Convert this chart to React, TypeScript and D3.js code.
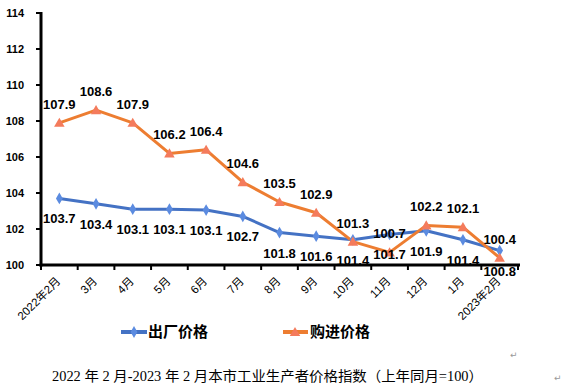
import React from "react";
import * as d3 from "d3";

const categories = ["2022年2月", "3月", "4月", "5月", "6月", "7月", "8月", "9月", "10月", "11月", "12月", "1月", "2023年2月"];
const factoryPrice = [103.7, 103.4, 103.1, 103.1, 103.05, 102.7, 101.8, 101.6, 101.4, 101.7, 101.9, 101.4, 100.8];
const factoryLabels = ["103.7", "103.4", "103.1", "103.1", "103.1", "102.7", "101.8", "101.6", "101.4", "101.7", "101.9", "101.4", "100.8"];
const purchasePrice = [107.9, 108.6, 107.9, 106.2, 106.4, 104.6, 103.5, 102.9, 101.3, 100.7, 102.2, 102.1, 100.4];
const purchaseLabels = ["107.9", "108.6", "107.9", "106.2", "106.4", "104.6", "103.5", "102.9", "101.3", "100.7", "102.2", "102.1", "100.4"];
const yTicks = [100, 102, 104, 106, 108, 110, 112, 114];
const seriesNames = ["出厂价格", "购进价格"];
const title = "2022 年 2 月-2023 年 2 月本市工业生产者价格指数（上年同月=100）";

const BLUE = "#4472C4";
const BLUE_M = "#5B8BE0";
const ORANGE = "#ED7D31";
const ORANGE_M = "#F47B5C";
const numFont = "'Liberation Sans', Arial, sans-serif";
const cjkFont = "'Liberation Sans', 'Noto Sans CJK SC', sans-serif";

export default function App() {
  const W = 566, H = 388;
  const x = d3.scaleBand<string>().domain(categories).range([41, 518]).padding(0);
  const y = d3.scaleLinear().domain([100, 114]).range([265, 13]);
  const cx = (i: number) => (x(categories[i]) as number) + x.bandwidth() / 2;
  const line = d3.line<number>().x((_, i) => cx(i)).y((d) => y(d));
  const tri = d3.symbol().type(d3.symbolTriangle).size(48)();
  const dia = d3.symbol().type(d3.symbolDiamond).size(40)();
  const boundaries = d3.range(categories.length + 1).map((i) => 41 + i * x.bandwidth());

  return (
    <svg width={W} height={H} style={{ position: "absolute", left: 0, top: 0, background: "#fff" }}>
      {/* y ticks */}
      {yTicks.map((t) => (
        <g key={t}>
          <line x1={36} x2={41} y1={y(t)} y2={y(t)} stroke="#000" strokeWidth={2} />
          <text x={24} y={y(t)} dy="0.35em" textAnchor="end" fontFamily={numFont} fontWeight="bold" fontSize={11}>
            {t}
          </text>
        </g>
      ))}
      {/* x ticks */}
      {boundaries.map((b, i) => (
        <line key={i} x1={b} x2={b} y1={265} y2={270} stroke="#000" strokeWidth={2} />
      ))}
      {/* lines */}
      <path d={line(factoryPrice) || ""} fill="none" stroke={BLUE} strokeWidth={3} strokeLinejoin="round" />
      <path d={line(purchasePrice) || ""} fill="none" stroke={ORANGE} strokeWidth={3} strokeLinejoin="round" />
      {factoryPrice.map((v, i) => (
        <path key={"d" + i} d={dia || ""} transform={`translate(${cx(i)},${y(v)})`} fill={BLUE_M} />
      ))}
      {purchasePrice.map((v, i) => (
        <path key={"t" + i} d={tri || ""} transform={`translate(${cx(i)},${y(v) + 1})`} fill={ORANGE_M} />
      ))}
      {/* axes */}
      <line x1={41} x2={41} y1={12} y2={266.5} stroke="#000" strokeWidth={3} />
      <line x1={39.5} x2={520} y1={265} y2={265} stroke="#000" strokeWidth={3} />
      {/* data labels */}
      {factoryLabels.map((l, i) => (
        <text key={"fl" + i} x={cx(i)} y={y(factoryPrice[i]) + 25} textAnchor="middle" fontFamily={numFont} fontWeight="bold" fontSize={13} fill="#000">
          {l}
        </text>
      ))}
      {purchaseLabels.map((l, i) => (
        <text key={"pl" + i} x={cx(i)} y={y(purchasePrice[i]) - 14} textAnchor="middle" fontFamily={numFont} fontWeight="bold" fontSize={13} fill="#000">
          {l}
        </text>
      ))}
      {/* x labels */}
      {categories.map((c, i) => (
        <text key={"x" + i} transform={`translate(${cx(i) - 1},${279}) rotate(-45)`} textAnchor="end" dy="0.35em" fontFamily={cjkFont} fontSize={11.5} fill="#000">
          {c}
        </text>
      ))}
      {/* legend */}
      <line x1={121} x2={147} y1={332} y2={332} stroke={BLUE} strokeWidth={4} />
      <path d={dia || ""} transform="translate(134,332)" fill={BLUE_M} />
      <text x={148} y={332} dy="0.36em" fontFamily="'Noto Sans CJK SC', sans-serif" fontWeight="bold" fontSize={15}>{seriesNames[0]}</text>
      <line x1={283} x2={308} y1={332} y2={332} stroke={ORANGE} strokeWidth={4} />
      <path d={tri || ""} transform="translate(295,333)" fill={ORANGE_M} />
      <text x={310} y={332} dy="0.36em" fontFamily="'Noto Sans CJK SC', sans-serif" fontWeight="bold" fontSize={15}>{seriesNames[1]}</text>
      {/* title */}
      <text x={52} y={381} textAnchor="start" fontFamily="'Liberation Serif', 'Noto Sans CJK SC', serif" fontSize={14} fill="#000" textLength={431} lengthAdjust="spacingAndGlyphs">
        {title}
      </text>
      <text x={510} y={358} fontFamily="'DejaVu Sans', sans-serif" fontSize={9} fill="#999">↵</text>
      <text x={554} y={381} fontFamily="'DejaVu Sans', sans-serif" fontSize={9} fill="#999">↵</text>
    </svg>
  );
}
